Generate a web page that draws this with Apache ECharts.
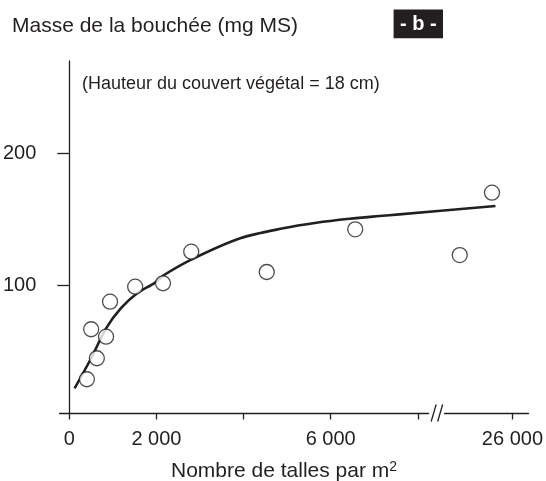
<!DOCTYPE html>
<html><head><meta charset="utf-8">
<script src="https://cdn.jsdelivr.net/npm/echarts@6/dist/echarts.min.js"></script>
<style>html,body{margin:0;padding:0;background:#fff}#c{width:546px;height:481px}</style>
</head><body><div id="c"></div>
<script>
// Observed points: tillers per m2 vs bite mass (mg DM)
const tillers  = [404, 502, 632, 844, 935, 1512, 2151, 2799, 4532, 6563, 24790, 25530];
const biteMass = [28.2, 66.3, 44.2, 60.6, 87.3, 98.7, 101.3, 125.4, 109.9, 142.4, 122.8, 170.3];
// Fitted curve
const curveX = [121, 502, 844, 1186, 1550, 1969, 2174, 2858, 3923, 4911, 5673, 6432, 7117, 7573, 25610];
const curveY = [21.3, 44.2, 67.0, 82.3, 93.5, 101.8, 107.6, 120.3, 135.6, 143.2, 147.4, 150.4, 152.5, 153.8, 160.2];
// Axis ticks / labels
const xTicks = [0, 2000, 4000, 6000, 8000, 26000];
const xLabels = [0, 2000, 6000, 26000];
const yTicks = [100, 200];
const xBreak = {start: 8260, end: 24430, gap: 342};

const ink = '#231f20';
const FONT = 'Liberation Sans, Arial, Helvetica, sans-serif';
const fmt = v => String(v).replace(/\B(?=(\d{3})+(?!\d))/g, ' ');

const chart = echarts.init(document.getElementById('c'), null, {renderer: 'canvas'});
const yMin = 2.5, yMax = 270.6;
chart.setOption({
  animation: false,
  backgroundColor: '#fff',
  grid: {left: 58, right: 16, top: 61, bottom: 68, containLabel: false},
  xAxis: {
    type: 'value', min: -228, max: 26365,
    breaks: [xBreak],
    breakArea: {show: false},
    splitLine: {show: false},
    axisLine: {lineStyle: {color: ink, width: 1.3}},
    axisTick: {show: true, customValues: xTicks, length: 6.5, lineStyle: {color: ink, width: 1.3}},
    axisLabel: {customValues: xLabels, formatter: fmt, margin: 16, color: ink, fontSize: 20, fontFamily: FONT}
  },
  yAxis: {
    type: 'value', min: yMin, max: yMax,
    splitLine: {show: false},
    axisLine: {onZero: true, lineStyle: {color: ink, width: 1.3}},
    axisTick: {show: true, customValues: yTicks, length: 12, lineStyle: {color: ink, width: 1.3}},
    axisLabel: {customValues: yTicks, margin: 23, color: ink, fontSize: 20, fontFamily: FONT}
  },
  series: [
    {type: 'line', data: curveX.map((x, i) => [x, curveY[i]]), smooth: 0.3, showSymbol: false,
     lineStyle: {color: ink, width: 2.6}, z: 2},
    {type: 'scatter', data: tillers.map((x, i) => [x, biteMass[i]]), symbol: 'circle', symbolSize: 15,
     itemStyle: {color: '#fff', borderColor: ink, borderWidth: 1.3}, z: 3}
  ]
});

const p1 = chart.convertToPixel({xAxisIndex: 0}, xBreak.start);
const p2 = chart.convertToPixel({xAxisIndex: 0}, xBreak.end);
const ay = chart.convertToPixel({yAxisIndex: 0}, yMin);

chart.setOption({
  graphic: [
    {type: 'rect', shape: {x: p1, y: ay - 3, width: p2 - p1, height: 6}, style: {fill: '#fff'}, z: 50},
    {type: 'line', shape: {x1: p1 + 2, y1: ay + 8.5, x2: p1 + 7, y2: ay - 8.5}, style: {stroke: ink, lineWidth: 1.3}, z: 51},
    {type: 'line', shape: {x1: p1 + 8.5, y1: ay + 8.5, x2: p1 + 13.5, y2: ay - 8.5}, style: {stroke: ink, lineWidth: 1.3}, z: 51},
    {type: 'text', left: 12, top: 16, style: {text: 'Masse de la bouchée (mg MS)', font: '21px ' + FONT, fill: ink}, z: 60},
    {type: 'rect', shape: {x: 393.6, y: 9.4, width: 49.4, height: 28.9}, style: {fill: ink}, z: 60},
    {type: 'text', x: 418.3, y: 24, style: {text: '- b -', font: 'bold 20px ' + FONT, fill: '#fff', align: 'center', verticalAlign: 'middle'}, z: 61},
    {type: 'text', x: 82, y: 84, style: {text: '(Hauteur du couvert végétal = 18 cm)', font: '18px ' + FONT, fill: ink, verticalAlign: 'middle'}, z: 60},
    {type: 'text', x: 284, y: 471, style: {
      text: 'Nombre de talles par m{s|2}', font: '21px ' + FONT, fill: ink, align: 'center', verticalAlign: 'middle',
      rich: {s: {fontSize: 14, fontFamily: FONT, fill: ink, verticalAlign: 'top'}}
    }, z: 60}
  ]
});
</script>
</body></html>
